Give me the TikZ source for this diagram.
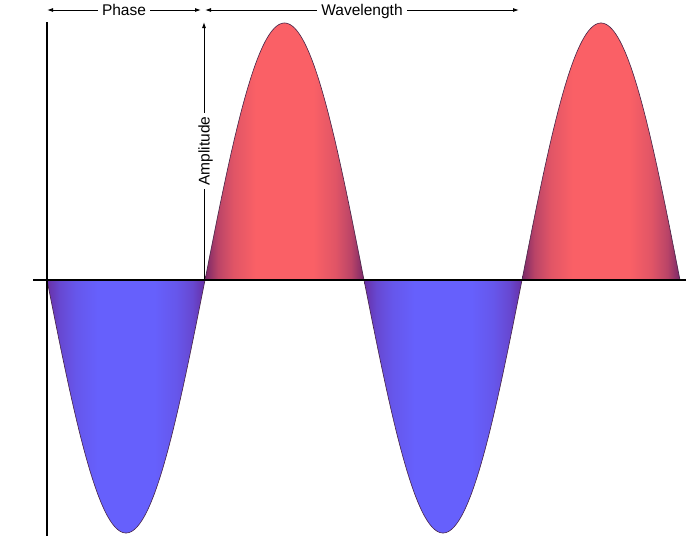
\documentclass[tikz,border=0pt]{standalone}
\usepackage{fontspec}
\setmainfont{Liberation Sans}
\usetikzlibrary{arrows.meta}
\definecolor{rdark}{RGB}{122,40,104}
\definecolor{rlight}{RGB}{250,96,102}
\definecolor{bdark}{RGB}{104,48,166}
\definecolor{blight}{RGB}{102,96,252}
\definecolor{edgec}{RGB}{70,35,70}
\pgfdeclarehorizontalshading{redhump}{100bp}{color(0bp)=(rdark); color(25bp)=(rdark); color(29bp)=(rlight!50!rdark); color(34bp)=(rlight!80!rdark); color(41bp)=(rlight); color(59bp)=(rlight); color(66bp)=(rlight!80!rdark); color(71bp)=(rlight!50!rdark); color(75bp)=(rdark); color(100bp)=(rdark)}
\pgfdeclarehorizontalshading{bluehump}{100bp}{color(0bp)=(bdark); color(25bp)=(bdark); color(29bp)=(blight!50!bdark); color(34bp)=(blight!80!bdark); color(41bp)=(blight); color(59bp)=(blight); color(66bp)=(blight!80!bdark); color(71bp)=(blight!50!bdark); color(75bp)=(bdark); color(100bp)=(bdark)}
\tikzset{
  hump/.style={draw=edgec, line width=0.6pt},
  axisline/.style={line width=2pt, black},
  dimline/.style={line width=0.9pt, black, arrows={-{Latex[length=6pt,width=4pt]}}},
  dimboth/.style={line width=0.9pt, black, arrows={{Latex[length=6pt,width=4pt]}-{Latex[length=6pt,width=4pt]}}},
  lbl/.style={fill=white, inner xsep=4pt, inner ysep=0pt, text height=11pt, text depth=0pt, font=\fontsize{15.5}{18}\selectfont}
}
\begin{document}
\begin{tikzpicture}[x=1pt, y=-1pt]
\useasboundingbox[fill=white] (0,0) rectangle (689,536);
% waves
\shadedraw[hump, shading=bluehump] plot[domain=47:205, samples=90] (\x,{280+253*sin((\x-47)/158*180)}) -- cycle;
\shadedraw[hump, shading=redhump] plot[domain=205:364, samples=90] (\x,{280-257*sin((\x-205)/159*180)}) -- cycle;
\shadedraw[hump, shading=bluehump] plot[domain=364:522, samples=90] (\x,{280+253*sin((\x-364)/158*180)}) -- cycle;
\shadedraw[hump, shading=redhump] plot[domain=522:680, samples=90] (\x,{280-257*sin((\x-522)/158*180)}) -- cycle;
% axes
\coordinate (yt) at (47,22);
\coordinate (yb) at (47,536);
\coordinate (xl) at (33,280);
\coordinate (xr) at (686,280);
\draw[axisline] (yt) -- (yb);
\draw[axisline] (xl) -- (xr);
% dimensions
\coordinate (p1) at (47,10);
\coordinate (p2) at (201,10);
\coordinate (w1) at (205,10);
\coordinate (w2) at (519,10);
\coordinate (a1) at (204,280);
\coordinate (a2) at (204,22);
\draw[dimboth] (p1) -- node[lbl] (phase) {Phase} (p2);
\draw[dimboth] (w1) -- node[lbl] (wave) {Wavelength} (w2);
\draw[dimline] (a1) -- node[lbl, rotate=90] (amp) {Amplitude} (a2);
\end{tikzpicture}
\end{document}
